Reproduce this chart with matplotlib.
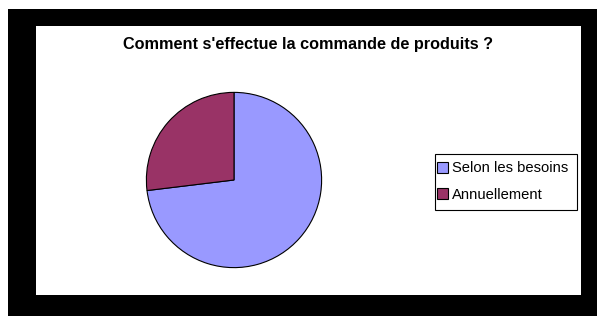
import matplotlib
matplotlib.use("Agg")
import matplotlib.pyplot as plt
from matplotlib.patches import Rectangle

plt.rcParams["font.family"] = ["Liberation Sans", "DejaVu Sans"]

# Data
labels = ["Selon les besoins", "Annuellement"]
values = [19, 7]
colors = ["#9999FF", "#993366"]
title = "Comment s'effectue la commande de produits ?"

W, H = 597, 316
fig = plt.figure(figsize=(W / 100, H / 100), dpi=100)
fig.patch.set_facecolor("white")

# Black frame and white chart area (pixel coordinates converted to figure fraction)
fig.patches.append(Rectangle((8 / W, 0), (W - 8) / W, (H - 9) / H,
                             transform=fig.transFigure, facecolor="black",
                             edgecolor="none", zorder=0))
fig.patches.append(Rectangle((36 / W, 21 / H), 545 / W, 269 / H,
                             transform=fig.transFigure, facecolor="white",
                             edgecolor="none", zorder=1))
# legend box (Excel style: tight sides, roomier top/bottom)
fig.patches.append(Rectangle((435 / W, 1 - 210 / H), 142 / W, 56 / H,
                             transform=fig.transFigure, facecolor="white",
                             edgecolor="black", linewidth=0.8, zorder=2))

# Pie
cx, cy, r = 234, 180, 88.5
ax = fig.add_axes([(cx - r) / W, (H - cy - r) / H, 2 * r / W, 2 * r / H])
ax.set_zorder(2)
ax.patch.set_visible(False)
wedges, _ = ax.pie(values, colors=colors, startangle=90, counterclock=False,
                   wedgeprops={"edgecolor": "black", "linewidth": 0.8})
ax.set_xlim(-1.01, 1.01)
ax.set_ylim(-1.01, 1.01)
ax.set_aspect("auto")
ax.axis("off")

fig.text(308 / W, 1 - 49 / H, title, ha="center", va="baseline",
         fontsize=11.7, fontweight="bold", zorder=3)

leg = fig.legend(wedges, labels, loc="center left",
                 bbox_to_anchor=(437 / W, 1 - 181.5 / H), fontsize=10.6,
                 frameon=False, handlelength=0.75, handleheight=0.75,
                 handletextpad=0.25, borderpad=0, labelspacing=0.82,
                 borderaxespad=0)
leg.set_zorder(3)

fig.savefig("out.png", dpi=100)
